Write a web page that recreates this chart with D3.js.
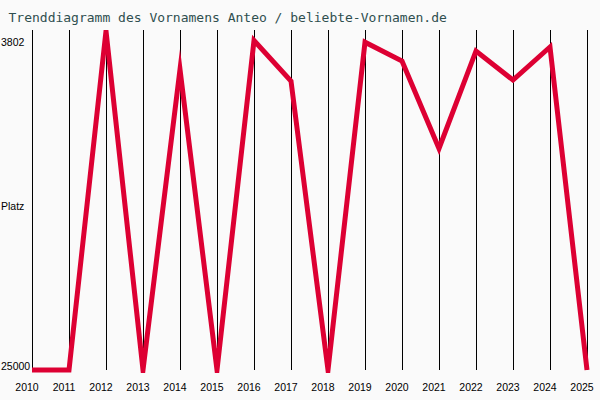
<!DOCTYPE html>
<html>
<head>
<meta charset="utf-8">
<script src="https://cdn.jsdelivr.net/npm/d3@7"></script>
<style>
  body { margin: 0; background: #fafafa; }
  svg { display: block; }
</style>
</head>
<body>
<div id="chart"></div>
<script>
// Data (Platz per year, 25000 = not ranked)
var years = [2010, 2011, 2012, 2013, 2014, 2015, 2016, 2017, 2018, 2019, 2020, 2021, 2022, 2023, 2024, 2025];
var ranks = [25000, 25000, 3802, 25000, 6200, 25000, 4400, 6930, 25000, 4500, 5680, 11150, 5050, 6870, 4800, 25000];
var yLabels = ["3802", "Platz", "25000"];
var title = "Trenddiagramm des Vornamens Anteo / beliebte-Vornamen.de";

var svgWidth = 600;
var svgHeight = 400;
var plot = { left: 32, right: 587, top: 30, bottom: 370 };

var svg = d3.select("#chart")
  .append("svg")
  .attr("width", svgWidth)
  .attr("height", svgHeight)
  .style("background", "#fafafa");

var x = d3.scaleLinear()
  .domain([2010, 2025])
  .range([plot.left, plot.right]);

// best rank on top
var y = d3.scaleLinear()
  .domain([3802, 25000])
  .range([plot.top + 1, plot.bottom]);

// title
svg.append("text")
  .attr("x", 8.5)
  .attr("y", 22)
  .attr("font-family", "DejaVu Sans Mono, monospace")
  .attr("font-size", "13px")
  .attr("fill", "#2f4f4f")
  .text(title);

// vertical grid lines + year labels
var xAxis = svg.append("g")
  .attr("transform", `translate(0, ${plot.top})`)
  .call(d3.axisBottom(x)
    .tickValues(years)
    .tickFormat(d3.format("d"))
    .tickSize(plot.bottom - plot.top));

xAxis.select(".domain").remove();
xAxis.selectAll("line").attr("stroke", "#000");
xAxis.selectAll("text")
  .attr("x", -5.5)
  .attr("y", 357)
  .attr("dy", "0.35em")
  .attr("font-family", "Liberation Sans, Arial, sans-serif")
  .attr("font-size", "10.5px")
  .attr("fill", "#000");

// y labels
var yPos = [y(3802) + 11, (plot.top + plot.bottom) / 2 + 6.7, y(25000) - 3.5];
svg.selectAll(".ylab")
  .data(yLabels)
  .enter()
  .append("text")
  .attr("class", "ylab")
  .attr("x", 1)
  .attr("y", (d, i) => yPos[i])
  .attr("dy", "0.35em")
  .attr("font-family", "Liberation Sans, Arial, sans-serif")
  .attr("font-size", "10.5px")
  .attr("fill", "#000")
  .text(d => d);

// clip the line to the plot area
svg.append("clipPath")
  .attr("id", "clip")
  .append("rect")
  .attr("x", 0)
  .attr("y", plot.top)
  .attr("width", svgWidth)
  .attr("height", plot.bottom - plot.top + 3);

var line = d3.line()
  .x((d, i) => x(years[i]))
  .y(d => y(d));

svg.append("path")
  .datum(ranks)
  .attr("clip-path", "url(#clip)")
  .attr("d", line)
  .attr("fill", "none")
  .attr("stroke", "#dd0033")
  .attr("stroke-width", 5)
  .attr("stroke-linejoin", "miter")
  .attr("stroke-miterlimit", 10);
</script>
</body>
</html>
